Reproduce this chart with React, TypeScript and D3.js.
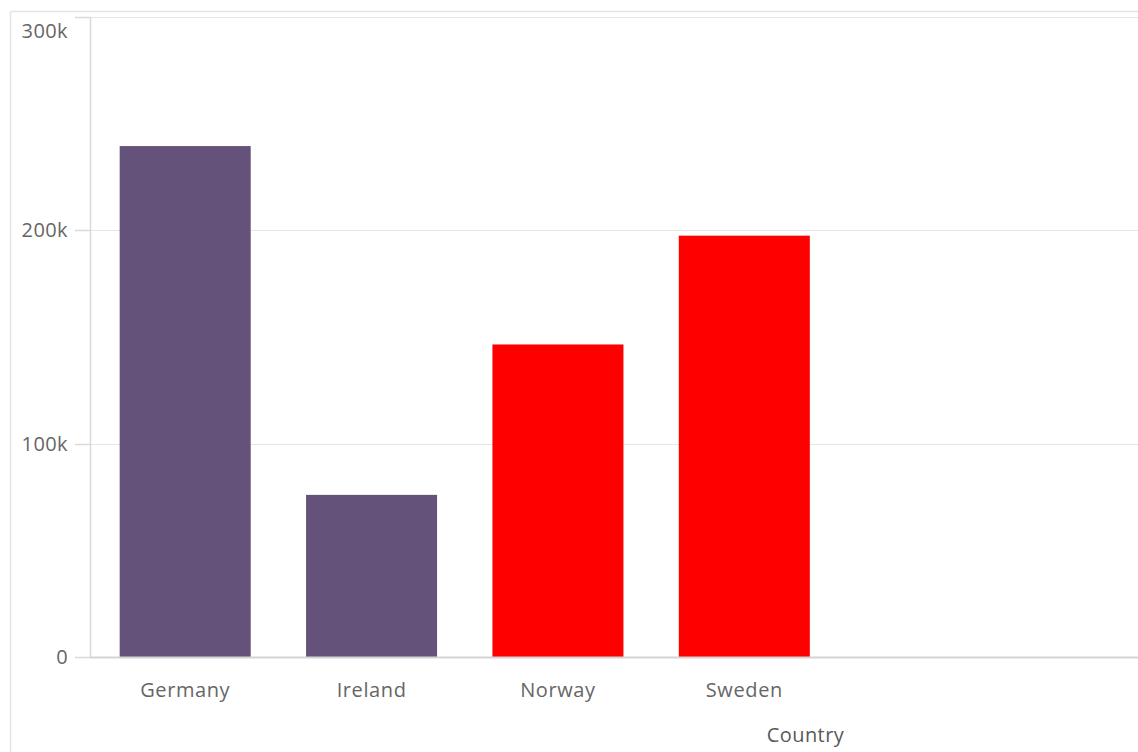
import React from "react";
import * as d3 from "d3";

const countries = ["Germany", "Ireland", "Norway", "Sweden"];
const values = [239500, 76000, 146500, 197500];
const barColors = ["#65527a", "#65527a", "#ff0000", "#ff0000"];
const yTicks = [0, 100000, 200000, 300000];
const yTickLabels = ["0", "100k", "200k", "300k"];
const xAxisTitle = "Country";

const W = 1138;
const H = 752;
const FONT = "'Open Sans', sans-serif";

export default function App() {
  const axisX = 90;
  const y = d3.scaleLinear().domain([0, 300000]).range([657, 17]);
  const x = d3
    .scaleBand<string>()
    .domain(countries)
    .range([92, 837.5])
    .paddingInner(0.297)
    .paddingOuter(0.1485);

  return (
    <svg
      width={W}
      height={H}
      style={{ position: "absolute", left: 0, top: 0, background: "#fff" }}
      fontFamily={FONT}
    >
      {/* outer frame */}
      <line x1={10.5} y1={11.5} x2={W} y2={11.5} stroke="#e3e3e3" strokeWidth={1.5} />
      <line x1={10.5} y1={11.5} x2={10.5} y2={H} stroke="#e3e3e3" strokeWidth={1.5} />

      {/* gridlines */}
      {yTicks.slice(1).map((t) => (
        <line
          key={"g" + t}
          x1={axisX}
          x2={W}
          y1={Math.round(y(t)) + 0.5}
          y2={Math.round(y(t)) + 0.5}
          stroke="#e6e6e6"
          strokeWidth={1}
        />
      ))}

      {/* ticks */}
      {yTicks.map((t) => (
        <line
          key={"t" + t}
          x1={75}
          x2={axisX}
          y1={Math.round(y(t)) + 0.5}
          y2={Math.round(y(t)) + 0.5}
          stroke="#d9d9d9"
          strokeWidth={1.5}
        />
      ))}

      {/* bars */}
      {countries.map((c, i) => (
        <rect
          key={c}
          x={x(c)}
          y={y(values[i])}
          width={x.bandwidth()}
          height={y(0) - y(values[i])}
          fill={barColors[i]}
        />
      ))}

      {/* axes */}
      <line x1={axisX + 0.5} x2={axisX + 0.5} y1={17} y2={657} stroke="#d9d9d9" strokeWidth={1.5} />
      <line x1={axisX} x2={W} y1={657.5} y2={657.5} stroke="#d4d4d4" strokeWidth={2} />

      {/* y labels */}
      {yTicks.map((t, i) => {
        let ty = y(t);
        if (i === yTicks.length - 1) ty = 31;
        return (
          <text
            key={"l" + t}
            x={68}
            y={ty}
            dy="0.35em"
            textAnchor="end"
            fontSize={20}
            letterSpacing={0.4}
            fill="#666"
          >
            {yTickLabels[i]}
          </text>
        );
      })}

      {/* x labels */}
      {countries.map((c) => (
        <text
          key={"x" + c}
          x={(x(c) ?? 0) + x.bandwidth() / 2}
          y={690}
          dy="0.35em"
          textAnchor="middle"
          fontSize={20}
          letterSpacing={0.6}
          fill="#666"
        >
          {c}
        </text>
      ))}

      <text
        x={805.5}
        y={735}
        dy="0.35em"
        textAnchor="middle"
        fontSize={20}
        letterSpacing={0.4}
        fill="#595959"
      >
        {xAxisTitle}
      </text>
    </svg>
  );
}
